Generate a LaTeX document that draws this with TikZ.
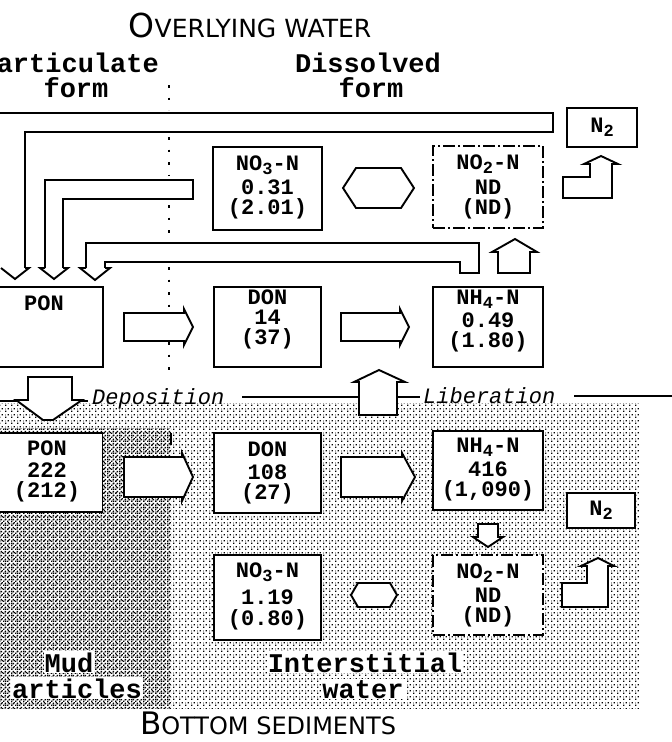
\documentclass[tikz,border=0pt]{standalone}
\usepackage{fontspec}
\newfontfamily\tw{Liberation Mono}
\newfontfamily\ttl{DejaVu Sans}
\usetikzlibrary{patterns}
\pgfdeclarepatternformonly{mudpat}{\pgfpointorigin}{\pgfqpoint{4pt}{4pt}}{\pgfqpoint{4pt}{4pt}}{%
  \pgfpathrectangle{\pgfpointorigin}{\pgfqpoint{1.8pt}{1.8pt}}%
  \pgfpathrectangle{\pgfqpoint{2pt}{2pt}}{\pgfqpoint{1.8pt}{1.8pt}}%
  \pgfusepath{fill}}
\pgfdeclarepatternformonly{waterpat}{\pgfpointorigin}{\pgfqpoint{6pt}{6pt}}{\pgfqpoint{6pt}{6pt}}{%
  \pgfpathrectangle{\pgfpointorigin}{\pgfqpoint{1.5pt}{1.5pt}}%
  \pgfpathrectangle{\pgfqpoint{3pt}{3pt}}{\pgfqpoint{1.5pt}{1.5pt}}%
  \pgfpathrectangle{\pgfqpoint{0pt}{3pt}}{\pgfqpoint{1pt}{1pt}}%
  \pgfusepath{fill}}
\newcommand{\lowd}[1]{\raisebox{-4pt}{\fontsize{17}{17}\selectfont #1}}
\newcommand{\boxfont}{\tw\bfseries\fontsize{22}{20}\selectfont}
\newcommand{\hdfont}{\tw\bfseries\fontsize{27}{27}\selectfont}
\newcommand{\itfont}{\tw\itshape\fontsize{22}{22}\selectfont}
\begin{document}
\begin{tikzpicture}[x=1pt,y=-1pt,
  ln/.style={line width=1.9pt},
  boxs/.style={draw, line width=1.9pt, fill=white, inner sep=0pt},
  dboxs/.style={boxs, dash pattern=on 12pt off 3pt on 2pt off 3pt},
  blk/.style={draw, line width=1.9pt, fill=white, line join=miter},
  btxt/.style={font=\boxfont, align=center, inner sep=0pt},
  dotl/.style={line width=2.4pt, dash pattern=on 2.5pt off 10pt},
  lbl/.style={inner sep=0pt, anchor=base}]
\useasboundingbox (0,0) rectangle (672,742);
\begin{scope}
\clip (0,0) rectangle (672,742);

% shading of sediments
\fill[pattern=waterpat] (0,403) rectangle (640,708);
\fill[pattern=mudpat] (0,428) rectangle (171,708);

% dotted separator
\draw[dotl] (169,85) -- (169,110);
\draw[dotl] (169,137) -- (169,176);
\draw[dotl] (169,205) -- (169,240);
\draw[dotl] (169,267) -- (169,378);
\draw[line width=1.8pt] (171,433) -- (171,445);

% sediment-water interface
\draw[ln] (-2,401) -- (28,401);
\draw[ln] (72,401) -- (88,401);
\draw[ln] (242,397) -- (359,397);
\draw[ln] (397,397) -- (420,397);
\draw[ln] (574,396) -- (672,396);

% boxes
\node[boxs, minimum width=109pt, minimum height=83pt] (no3u) at (267.5,188.5) {};
\node[dboxs, minimum width=110pt, minimum height=82pt] (no2u) at (488,187) {};
\node[boxs, minimum width=70pt, minimum height=39pt] (n2u) at (602,127.5) {};
\node[boxs, minimum width=111pt, minimum height=80pt] (ponu) at (47.5,327) {};
\node[boxs, minimum width=107pt, minimum height=80pt] (donu) at (267.5,327) {};
\node[boxs, minimum width=110pt, minimum height=80pt] (nh4u) at (488,327) {};
\node[boxs, minimum width=111pt, minimum height=79pt] (ponl) at (47,472.5) {};
\node[boxs, minimum width=107pt, minimum height=80pt] (donl) at (267.5,473) {};
\node[boxs, minimum width=110pt, minimum height=79pt] (nh4l) at (488,470.5) {};
\node[boxs, minimum width=68pt, minimum height=35pt] (n2l) at (601,510.5) {};
\node[boxs, minimum width=107pt, minimum height=85pt] (no3l) at (267.5,597.5) {};
\node[dboxs, minimum width=110pt, minimum height=80pt] (no2l) at (488,595) {};

% pipes to PON
\draw[ln] (25,268) |- (553,132) -- (553,113) -- (-5,113);
\draw[ln] (25,268) -- (29,268) -- (15,279) -- (1,268);
\draw[ln] (45,268) |- (193,180) -- (193,199) -| (63,268);
\draw[ln] (45,268) -- (40,268) -- (54,279) -- (68,268) -- (63,268);
\draw[ln] (86,268) |- (479,243) -- (479,273) -- (460,273) -- (460,262) -| (105,268);
\draw[ln] (86,268) -- (80,268) -- (95,280) -- (110,268) -- (105,268);

% block arrows
\draw[blk] (498,273) -- (498,252) -- (492,252) -- (515,239) -- (537,252) -- (530,252) -- (530,273) -- cycle;
\draw[blk] (359,415) -- (359,382) -- (354,382) -- (379,370) -- (405,382) -- (397,382) -- (397,415) -- cycle;
\draw[blk] (28,377) -- (72,377) -- (72,400) -- (82,400) -- (53,420) -- (43,420) -- (16,400) -- (28,400) -- cycle;
\draw[blk] (563,198) -- (563,177) -- (590,177) -- (590,164) -- (584,164) -- (601,156) -- (618,164) -- (612,164) -- (612,198) -- cycle;
\draw[blk] (562,607) -- (562,583) -- (587,583) -- (587,566) -- (581,566) -- (598,558) -- (614,566) -- (608,566) -- (608,607) -- cycle;
\draw[blk] (478,524) -- (498,524) -- (498,537) -- (503,537) -- (488,547) -- (473,537) -- (478,537) -- cycle;
\draw[blk] (343,188) -- (356,168) -- (401,168) -- (414,188) -- (401,208) -- (356,208) -- cycle;
\draw[blk] (351,595) -- (358,583) -- (390,583) -- (397,595) -- (390,607) -- (358,607) -- cycle;
\draw[blk] (124,313) -- (184,313) -- (184,309) -- (193,327) -- (184,345) -- (184,341) -- (124,341) -- cycle;
\draw[blk] (341,313) -- (400,313) -- (400,309) -- (409,327) -- (400,345) -- (400,341) -- (341,341) -- cycle;
\draw[blk] (124,457) -- (182,457) -- (182,453) -- (193,477) -- (182,501) -- (182,497) -- (124,497) -- cycle;
\draw[blk] (341,457) -- (402,457) -- (402,453) -- (415,477) -- (402,501) -- (402,497) -- (341,497) -- cycle;

% box texts
\node[btxt] (t-no3u) at (267.5,187.5) {NO\lowd{3}-N\\[4pt]0.31\\(2.01)};
\node[btxt] (t-no2u) at (488,186.5) {NO\lowd{2}-N\\[5pt]ND\\(ND)};
\node[btxt] (t-n2u) at (602,127.5) {N\lowd{2}};
\node[btxt] (t-ponu) at (44,303) {PON};
\node[btxt] (t-donu) at (267.5,319.5) {DON\\14\\(37)};
\node[btxt] (t-nh4u) at (488,321) {NH\lowd{4}-N\\[3pt]0.49\\(1.80)};
\node[btxt] (t-ponl) at (47,471.5) {PON\\[2pt]222\\(212)};
\node[btxt] (t-donl) at (267.5,472.5) {DON\\[3pt]108\\(27)};
\node[btxt] (t-nh4l) at (488,469.5) {NH\lowd{4}-N\\[4pt]416\\(1,090)};
\node[btxt] (t-n2l) at (601,510.5) {N\lowd{2}};
\node[btxt] (t-no3l) at (267.5,596) {NO\lowd{3}-N\\[7pt]1.19\\[1pt](0.80)};
\node[btxt] (t-no2l) at (488,595) {NO\lowd{2}-N\\[4pt]ND\\(ND)};

% headings
\node[lbl] (title1) at (250,37) {\ttl\fontsize{33}{33}\selectfont O\fontsize{25}{25}\selectfont VERLYING WATER};
\node[lbl] (title2) at (268,734) {\ttl\fontsize{31}{31}\selectfont B\fontsize{24}{24}\selectfont OTTOM SEDIMENTS};
\node[lbl, anchor=base east] (h1) at (159,72) {\hdfont articulate};
\node[lbl] (h2) at (76,97) {\hdfont form};
\node[lbl] (h3) at (368,72) {\hdfont Dissolved};
\node[lbl] (h4) at (371,97) {\hdfont form};
\node[lbl, anchor=base west] (dep) at (92,404) {\itfont Deposition};
\node[lbl, anchor=base west] (lib) at (423,403) {\itfont Liberation};
\node[lbl, fill=white, inner sep=1pt] (mud) at (69,672) {\hdfont Mud};
\node[lbl, anchor=base west, fill=white, inner sep=1pt] (part) at (11,698) {\hdfont articles};
\node[lbl, fill=white, inner sep=1pt] (inter) at (365,672) {\hdfont Interstitial};
\node[lbl, fill=white, inner sep=1pt] (wat) at (363,698) {\hdfont water};
\end{scope}
\end{tikzpicture}
\end{document}
